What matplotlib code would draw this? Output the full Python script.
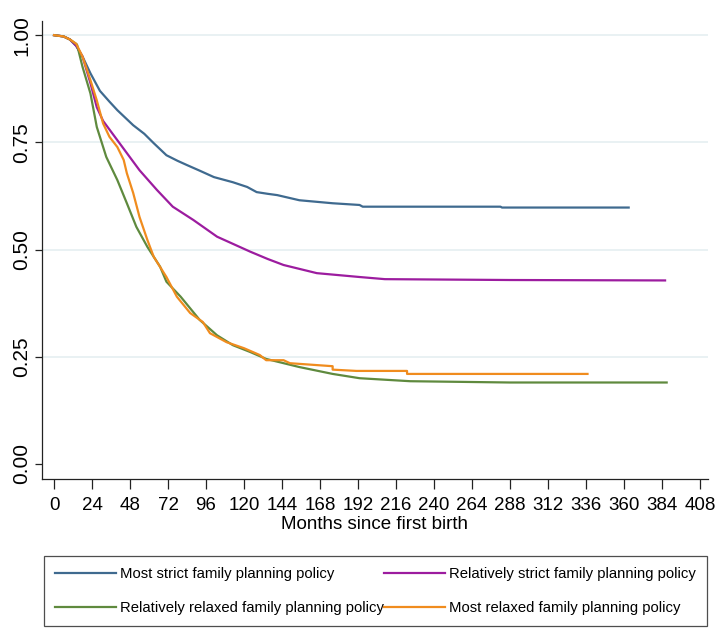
import numpy as np
import matplotlib
matplotlib.use("Agg")
import matplotlib.pyplot as plt

# Kaplan-Meier curves by family planning policy group
months_strict = [0, 6, 10, 14, 18, 23, 29, 35, 40, 50, 57, 63, 71, 78, 84, 92, 101, 113,
                 122, 128, 135, 141, 155, 176, 193, 195, 282, 283, 363]
surv_strict = [1.0, 0.997, 0.99, 0.975, 0.95, 0.911, 0.87, 0.845, 0.825, 0.79, 0.77, 0.748,
               0.72, 0.707, 0.697, 0.684, 0.669, 0.657, 0.646, 0.634, 0.63, 0.627, 0.615,
               0.608, 0.604, 0.600, 0.600, 0.598, 0.598]

months_rel_strict = [0, 6, 10, 14, 18, 23, 27, 31, 36, 40, 46, 54, 65, 75, 88, 103, 124,
                     135, 145, 166, 193, 209, 288, 386]
surv_rel_strict = [1.0, 0.997, 0.99, 0.975, 0.95, 0.888, 0.832, 0.80, 0.775, 0.755, 0.725,
                   0.685, 0.639, 0.60, 0.569, 0.53, 0.495, 0.478, 0.464, 0.445, 0.436,
                   0.431, 0.429, 0.428]

months_rel_relaxed = [0, 6, 10, 14.5, 18, 23, 27, 33, 40, 46, 52, 59, 67, 71, 80, 92, 103,
                      113, 124, 134, 155, 176, 193, 225, 288, 387]
surv_rel_relaxed = [1.0, 0.997, 0.99, 0.978, 0.926, 0.864, 0.786, 0.716, 0.662, 0.608,
                    0.553, 0.506, 0.46, 0.425, 0.39, 0.336, 0.30, 0.277, 0.261, 0.245,
                    0.226, 0.21, 0.20, 0.193, 0.190, 0.190]

months_relaxed = [0, 6, 10, 14, 18, 23, 27, 31, 35, 40, 44, 46, 50, 54, 59, 63, 71, 77.6,
                  86, 94, 98.5, 109, 120, 130, 134, 145, 149, 176, 176, 191, 223, 223, 337]
surv_relaxed = [1.0, 0.997, 0.99, 0.98, 0.95, 0.895, 0.848, 0.794, 0.763, 0.739, 0.709,
                0.678, 0.632, 0.576, 0.522, 0.483, 0.436, 0.39, 0.352, 0.331, 0.305, 0.284,
                0.27, 0.254, 0.242, 0.242, 0.235, 0.228, 0.22, 0.217, 0.217, 0.21, 0.21]

labels = ["Most strict family planning policy",
          "Relatively strict family planning policy",
          "Relatively relaxed family planning policy",
          "Most relaxed family planning policy"]
colors = ["#3f6a8f", "#9c1c9f", "#5f8a3e", "#f08c1e"]

x_ticks = list(range(0, 409, 24))
y_ticks = [0.0, 0.25, 0.5, 0.75, 1.0]

font = "Liberation Sans"

fig = plt.figure(figsize=(7.23, 6.29), dpi=100)
ax = fig.add_axes([0.0581, 0.2385, 0.9209, 0.7281])

series = [(months_strict, surv_strict), (months_rel_strict, surv_rel_strict),
          (months_rel_relaxed, surv_rel_relaxed), (months_relaxed, surv_relaxed)]
handles = []
for (m, s), lab, c in zip(series, labels, colors):
    h, = ax.plot(m, s, color=c, lw=1.6, label=lab, solid_joinstyle="round")
    handles.append(h)

ax.set_xlim(-7.6, 413)
ax.set_ylim(-0.035, 1.033)

for yv in y_ticks[1:]:
    ax.axhline(yv, color="#e9f1f3", lw=1.4, zorder=0)

ax.set_xticks(x_ticks)
ax.set_xticklabels([str(t) for t in x_ticks], fontfamily=font, fontsize=13.5)
ax.set_yticks(y_ticks)
ax.set_yticklabels(["%.2f" % t for t in y_ticks], fontfamily=font,
                   fontsize=15, rotation=90, va="center")
ax.tick_params(axis="x", length=7.2, width=0.9, pad=6, color="#222222")
ax.tick_params(axis="y", length=5, width=0.9, pad=3, color="#222222")
ax.set_xlabel("Months since first birth", fontfamily=font, fontsize=13.5, labelpad=1)

for side in ["top", "right"]:
    ax.spines[side].set_visible(False)
for side in ["left", "bottom"]:
    ax.spines[side].set_color("#222222")
    ax.spines[side].set_linewidth(0.9)

# legend fills column-first, so interleave to get strict/relaxed rows
order = [0, 2, 1, 3]
leg = fig.legend(handles=[handles[i] for i in order], loc="center",
                 bbox_to_anchor=(375.5 / 723, 1 - 591 / 629), ncol=2,
                 prop={"family": font, "size": 10.7}, frameon=True, fancybox=False,
                 edgecolor="#222222", handlelength=4.1, handletextpad=0.3,
                 columnspacing=0.0, labelspacing=1.35, borderpad=0.75,
                 borderaxespad=0)
leg.get_frame().set_linewidth(0.9)

fig.savefig("out.png", dpi=100)
